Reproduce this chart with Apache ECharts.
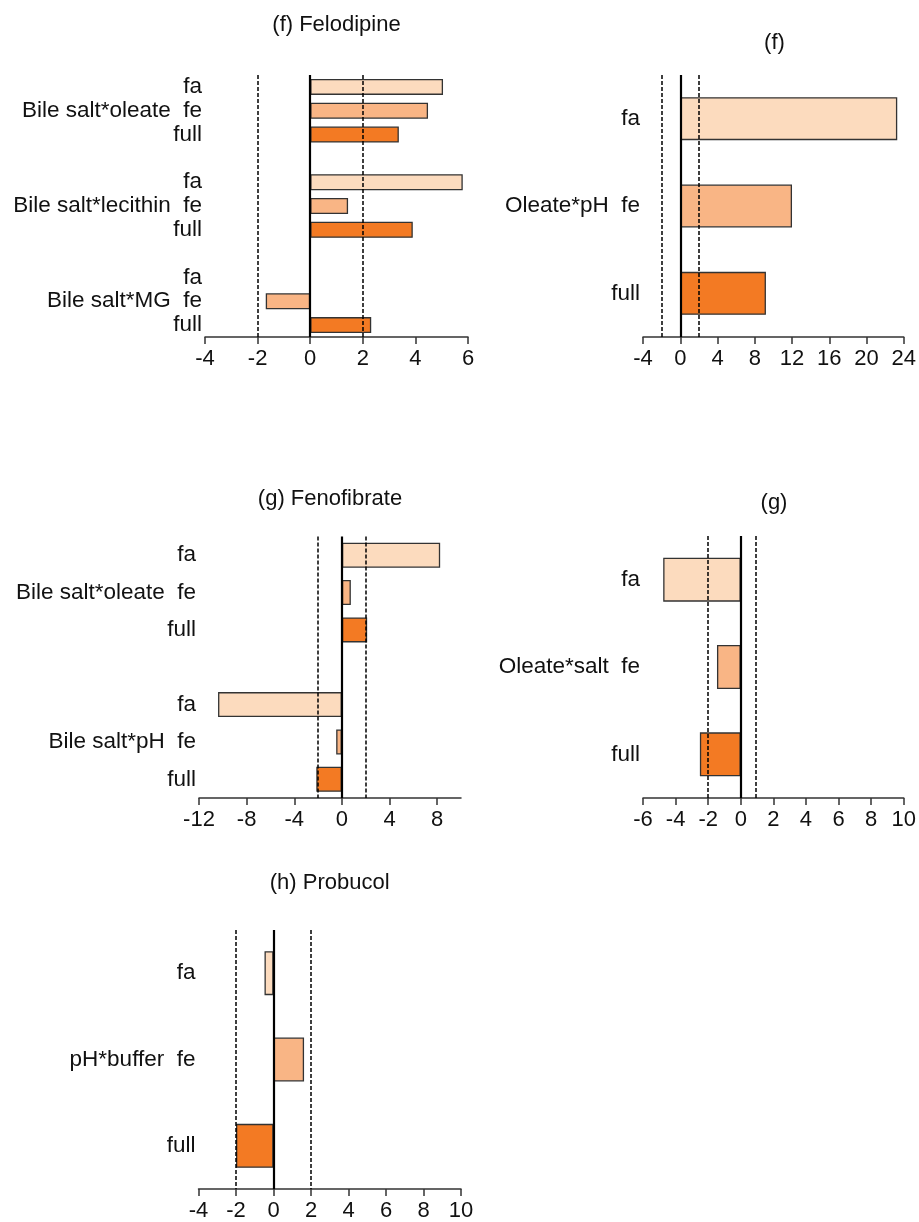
<!DOCTYPE html>
<html>
<head>
<meta charset="utf-8">
<script src="https://cdn.jsdelivr.net/npm/echarts@6/dist/echarts.min.js"></script>
<style>
html,body{margin:0;padding:0;background:#fff;}
#c{width:919px;height:1222px;}
</style>
</head>
<body>
<div id="c"></div>
<script>
// ---------- DATA ----------
// Panel (f) Felodipine
var felCategories = ['fa', 'Bile salt*oleate  fe', 'full', '', 'fa', 'Bile salt*lecithin  fe', 'full', '', 'fa', 'Bile salt*MG  fe', 'full'];
var felLevels     = ['fa', 'fe', 'full', '', 'fa', 'fe', 'full', '', 'fa', 'fe', 'full'];
var felValues     = [5.05, 4.48, 3.37, null, 5.80, 1.44, 3.90, null, null, -1.69, 2.32];
var felTicks      = [-4, -2, 0, 2, 4, 6];
var felRefLines   = [-2, 2];

// Panel (f) Oleate*pH
var fpCategories = ['fa', 'Oleate*pH  fe', 'full'];
var fpLevels     = ['fa', 'fe', 'full'];
var fpValues     = [23.3, 12.0, 9.2];
var fpTicks      = [-4, 0, 4, 8, 12, 16, 20, 24];
var fpRefLines   = [-2, 2];

// Panel (g) Fenofibrate
var fenCategories = ['fa', 'Bile salt*oleate  fe', 'full', '', 'fa', 'Bile salt*pH  fe', 'full'];
var fenLevels     = ['fa', 'fe', 'full', '', 'fa', 'fe', 'full'];
var fenValues     = [8.25, 0.75, 2.12, null, -10.4, -0.48, -2.15];
var fenTicks      = [-12, -8, -4, 0, 4, 8];
var fenRefLines   = [-2, 2];

// Panel (g) Oleate*salt
var gsCategories = ['fa', 'Oleate*salt  fe', 'full'];
var gsLevels     = ['fa', 'fe', 'full'];
var gsValues     = [-4.76, -1.46, -2.51];
var gsTicks      = [-6, -4, -2, 0, 2, 4, 6, 8, 10];
var gsRefLines   = [-2, 0.9];

// Panel (h) Probucol
var proCategories = ['fa', 'pH*buffer  fe', 'full'];
var proLevels     = ['fa', 'fe', 'full'];
var proValues     = [-0.48, 1.63, -2.0];
var proTicks      = [-4, -2, 0, 2, 4, 6, 8, 10];
var proRefLines   = [-2, 2];

var titles = ['(f) Felodipine', '(f)', '(g) Fenofibrate', '(g)', '(h) Probucol'];

// ---------- STYLE / LAYOUT ----------
var levelColors = { fa: '#FCDBBE', fe: '#F9B585', full: '#F37A23' };
var FONT = 'Liberation Sans, Arial, sans-serif';
var FS = 22;
var FS_CAT = 22.5;

var panels = [
  { cats: felCategories, levels: felLevels, vals: felValues, ticks: felTicks, refs: felRefLines,
    grid: { left: 205, top: 75, width: 263, height: 262 }, barW: 16, title: [336.5, 25] },
  { cats: fpCategories, levels: fpLevels, vals: fpValues, ticks: fpTicks, refs: fpRefLines,
    grid: { left: 643, top: 75, width: 263, height: 262 }, barW: 43, title: [774.5, 43] },
  { cats: fenCategories, levels: fenLevels, vals: fenValues, ticks: fenTicks, refs: fenRefLines,
    grid: { left: 199, top: 536.5, width: 262, height: 261.5 }, barW: 25, title: [330, 499], max: 10 },
  { cats: gsCategories, levels: gsLevels, vals: gsValues, ticks: gsTicks, refs: gsRefLines,
    grid: { left: 643, top: 536, width: 263, height: 262 }, barW: 44, title: [774, 503] },
  { cats: proCategories, levels: proLevels, vals: proValues, ticks: proTicks, refs: proRefLines,
    grid: { left: 198.5, top: 930, width: 262.5, height: 262 }, barW: 44, title: [329.7, 883] }
];

var grids = [], xAxes = [], yAxes = [], series = [], graphics = [];

panels.forEach(function (p, i) {
  grids.push(Object.assign({ containLabel: false }, p.grid));
  var mn = p.ticks[0];
  var mx = p.max !== undefined ? p.max : p.ticks[p.ticks.length - 1];
  var itv = p.ticks[1] - p.ticks[0];
  xAxes.push({
    type: 'value', gridIndex: i, min: mn, max: mx, interval: itv,
    splitLine: { show: false },
    axisLine: { show: true, onZero: false, lineStyle: { color: '#333', width: 1.5 } },
    axisTick: { show: true, length: 7, lineStyle: { color: '#333', width: 1.5 }, customValues: p.ticks },
    axisLabel: { show: true, margin: 11, color: '#111', fontSize: FS, fontFamily: FONT, customValues: p.ticks,
      formatter: function (v) { return String(v); } }
  });
  yAxes.push({
    type: 'category', gridIndex: i, data: p.cats, inverse: true,
    axisLine: { show: false, onZero: false },
    axisTick: { show: false },
    splitLine: { show: false },
    axisLabel: { show: true, margin: 3, color: '#111', fontSize: FS_CAT, fontFamily: FONT, interval: 0 }
  });
  var refData = [{ xAxis: 0, lineStyle: { type: 'solid', width: 2.2, color: '#000' } }];
  p.refs.forEach(function (r) {
    refData.push({ xAxis: r, lineStyle: { type: [4, 2], width: 1.5, color: '#000' } });
  });
  series.push({
    type: 'bar', xAxisIndex: i, yAxisIndex: i, barWidth: p.barW,
    data: p.vals.map(function (v, k) {
      return {
        value: v,
        itemStyle: { color: levelColors[p.levels[k]] || '#fff', borderColor: '#333', borderWidth: 1.3 }
      };
    }),
    markLine: {
      silent: true, symbol: 'none', label: { show: false }, z: 5,
      data: refData
    },
    z: 2
  });
  graphics.push({
    type: 'text', x: p.title[0], y: p.title[1],
    style: { text: titles[i], fontSize: FS, fontFamily: FONT, fill: '#111', textAlign: 'center', textVerticalAlign: 'middle' }
  });
});

var chart = echarts.init(document.getElementById('c'), null, { renderer: 'canvas' });
chart.setOption({
  animation: false,
  backgroundColor: '#fff',
  grid: grids,
  xAxis: xAxes,
  yAxis: yAxes,
  series: series,
  graphic: graphics
});
</script>
</body>
</html>
